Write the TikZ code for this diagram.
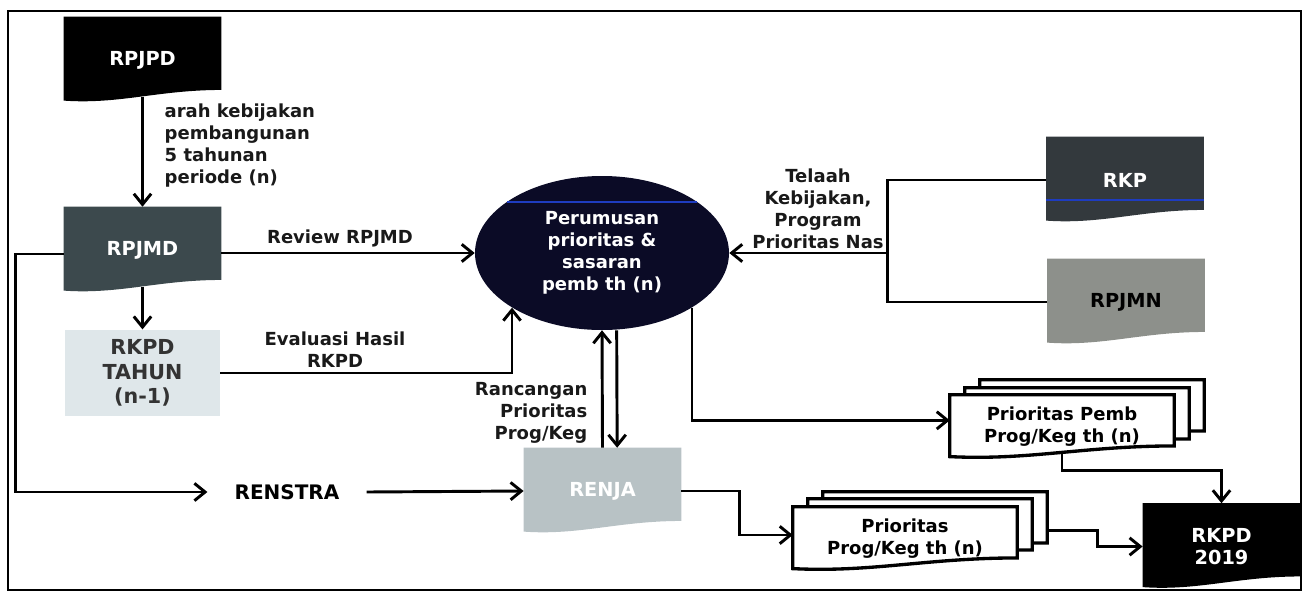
\documentclass[tikz,border=0pt]{standalone}
\usepackage{fontspec}
\setmainfont{DejaVu Sans}
\usetikzlibrary{shapes.geometric, arrows.meta, calc, backgrounds}

\definecolor{navy}{HTML}{0B0B26}
\definecolor{slate}{HTML}{3C494D}
\definecolor{charcoal}{HTML}{33393D}
\definecolor{paleblue}{HTML}{DFE7EA}
\definecolor{mistgrey}{HTML}{B8C2C5}
\definecolor{stone}{HTML}{8D908B}
\definecolor{inkblue}{HTML}{1E3CC0}

% document symbol (wavy bottom) behind a named node
\newcommand{\docshape}[2]{%
  \begin{pgfonlayer}{background}
    \path[#2] (#1.north west) -- (#1.north east) -- ([yshift=10pt]#1.south east)
      .. controls ($(#1.south east)!0.4!(#1.south west)+(0,10pt)$) and ($(#1.south east)!0.65!(#1.south west)+(0,-1pt)$) .. ([yshift=2pt]#1.south west) -- cycle;
  \end{pgfonlayer}}

\begin{document}
\begin{tikzpicture}[x=0.75pt, y=-0.75pt, font=\fontsize{13.5pt}{16.5pt}\selectfont\bfseries]
    \tikzstyle{doc} = [minimum width=118pt, minimum height=64.5pt, align=center, inner sep=0pt, font=\fontsize{14.5pt}{17pt}\selectfont\bfseries]
    \tikzstyle{sheet} = [minimum width=168pt, minimum height=48pt, align=center, inner sep=0pt]
    \tikzstyle{note} = [align=center, text=black!90]
    \tikzstyle{conn} = [line width=2.2pt, -{Straight Barb[length=8pt, width=13pt]}]
    \tikzstyle{wire} = [line width=2.2pt]

    \useasboundingbox (0,0) rectangle (1305,593);
    \draw[line width=1.5pt] (8,11) rectangle (1301,590);

    % Regional plans
    \node [doc, text=white] (rpjpd) at (142.5,60) {RPJPD};
    \node [doc, text=white] (rpjmd) at (142.5,250) {RPJMD};
    \node [rectangle, fill=paleblue, minimum width=116pt, minimum height=65pt, align=center, text=black!80, font=\fontsize{15.5pt}{18.5pt}\selectfont\bfseries] (rkpdlalu) at (142.5,373) {RKPD\\TAHUN\\(n-1)};
    \node [minimum width=119pt, inner sep=0pt, font=\fontsize{15pt}{18pt}\selectfont\bfseries] (renstra) at (287,492) {RENSTRA};

    % Central process
    \node [ellipse, fill=navy, text=white, minimum width=190.5pt, minimum height=115.5pt, align=center, inner sep=0pt] (perumusan) at (602,253) {Perumusan\\prioritas \&\\sasaran\\pemb th (n)};
    \node [doc, text=white] (renja) at (602.5,491) {RENJA};

    % National plans
    \node [doc, text=white] (rkp) at (1125,180) {RKP};
    \node [doc, text=black] (rpjmn) at (1126,302) {RPJMN};

    % Outputs
    \node [sheet] (pemb3) at (1092,412) {};
    \node [sheet] (pemb2) at (1077,420) {};
    \node [sheet] (pemb1) at (1062,427) {Prioritas Pemb\\Prog/Keg th (n)};
    \node [sheet] (prog3) at (935,524) {};
    \node [sheet] (prog2) at (920,531) {};
    \node [sheet] (prog1) at (905,539) {Prioritas\\Prog/Keg th (n)};
    \node [doc, text=white] (rkpd19) at (1221.5,546.5) {RKPD\\2019};

    \docshape{rpjpd}{fill=black}
    \docshape{rpjmd}{fill=slate}
    \docshape{renja}{fill=mistgrey}
    \docshape{rkp}{fill=charcoal}
    \docshape{rpjmn}{fill=stone}
    \docshape{rkpd19}{fill=black}
    \docshape{pemb3}{fill=white, draw=black, line width=2.5pt}
    \docshape{pemb2}{fill=white, draw=black, line width=2.5pt}
    \docshape{pemb1}{fill=white, draw=black, line width=2.5pt}
    \docshape{prog3}{fill=white, draw=black, line width=2.5pt}
    \docshape{prog2}{fill=white, draw=black, line width=2.5pt}
    \docshape{prog1}{fill=white, draw=black, line width=2.5pt}
    \draw [inkblue, line width=1.5pt] (507,202) -- (697,202);
    \draw [inkblue, line width=2pt] (1046,200) -- (1204,200);

    % Labels
    \node [note, anchor=west, align=left] (arahlbl) at (160,146) {arah kebijakan\\pembangunan\\5 tahunan\\periode (n)};
    \node [note] (reviewlbl) at (340,238) {Review RPJMD};
    \node [note] (evallbl) at (335,350) {Evaluasi Hasil\\RKPD};
    \node [note] (telaahlbl) at (818,209) {Telaah\\Kebijakan,\\Program\\Prioritas Nas};
    \node [note, anchor=east, align=right] (rancanganlbl) at (592,413) {Rancangan\\Prioritas\\Prog/Keg};

    % Connections
    \coordinate (junction) at (887,253);
    \draw [conn] ([yshift=5pt]rpjpd.south) -- (rpjmd.north);
    \draw [conn] ([yshift=5pt]rpjmd.south) -- (rkpdlalu.north);
    \draw [conn] (rpjmd.east |- perumusan.west) -- (perumusan.west);
    \draw [conn] ([yshift=-3pt]rpjmd.west) -- ++(-48,0) |- (renstra.west);
    \draw [conn] (rkpdlalu.east) -| (perumusan.south west);
    \draw [wire] (rkp.west) -- ++(-159,0) |- (rpjmn.west);
    \draw [conn] (junction) -- (perumusan.east);
    \draw [conn] (renja.north) -- (perumusan.south);
    \draw [conn] ([xshift=11pt]perumusan.south) -- ([xshift=11pt]renja.north);
    \draw [conn] (renstra.east) -- (renja.west);
    \draw [conn] (perumusan.south east) |- ([yshift=5pt]pemb1.west);
    \draw [conn] (renja.east) -- ++(58,0) |- ([yshift=3pt]prog1.west);
    \draw [conn] ([yshift=5pt]pemb1.south) -- ++(0,18) -| (rkpd19.north);
    \draw [conn] ([yshift=-5pt]prog3.east) -- ++(50,0) |- (rkpd19.west);
\end{tikzpicture}
\end{document}
